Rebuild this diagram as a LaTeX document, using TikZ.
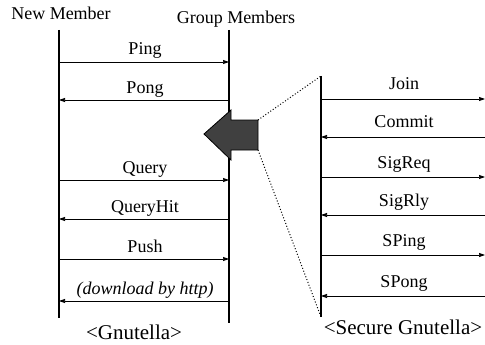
\documentclass[tikz,border=0pt]{standalone}
\usepackage{fontspec}
\setmainfont{Liberation Serif}
\usetikzlibrary{arrows.meta}
\begin{document}
\begin{tikzpicture}[x=1pt,y=-1pt,
  lifeline/.style={line width=1.2pt},
  msg/.style={line width=0.7pt,-{Triangle[length=6pt,width=4pt]}},
  lbl/.style={font=\fontsize{18}{18}\selectfont,anchor=base,inner sep=0pt},
  caption/.style={font=\fontsize{21}{21}\selectfont,anchor=base,inner sep=0pt},
  zoomline/.style={line width=1pt,dotted}]
\useasboundingbox (0,0) rectangle (485,345);

% actors
\node[lbl] (nm) at (61,20) {New Member};
\node[lbl] (gm) at (236,24) {Group Members};

% lifelines of the Gnutella exchange
\coordinate (Ltop) at (59,30);  \coordinate (Lbot) at (59,318);
\coordinate (Rtop) at (229,30); \coordinate (Rbot) at (229,323);
\draw[lifeline] (Ltop) -- (Lbot);
\draw[lifeline] (Rtop) -- (Rbot);

% Gnutella messages: name, y, direction
\foreach \t/\y/\d [count=\i] in {Ping/62/r, Pong/100/l, Query/180/r, QueryHit/219/l, Push/259/r}{
  \coordinate (gl\i) at (59,\y);
  \coordinate (gr\i) at (229,\y);
  \if r\d \draw[msg] (gl\i) -- (gr\i);\else \draw[msg] (gr\i) -- (gl\i);\fi
  \node[lbl] (gt\i) at (145,\y-7) {\t};
}
\coordinate (dl) at (59,301); \coordinate (dr) at (229,301);
\draw[msg] (dr) -- (dl);
\node[lbl] (dt) at (145,294) {\itshape (download by http)};

\node[caption] (gcap) at (134,339) {<Gnutella>};

% zoom arrow
\draw[line width=0.8pt, fill=black!75]
  (204,134) coordinate (tip) -- (231,110) -- (231,120) -- (258,120) coordinate (bt)
  -- (258,150) coordinate (bb) -- (231,150) -- (231,160) -- cycle;

% Secure Gnutella lifeline
\coordinate (Stop) at (321,76); \coordinate (Sbot) at (321,317);
\draw[lifeline] (Stop) -- (Sbot);
\draw[zoomline] (bt) -- (Stop);
\draw[zoomline] (bb) -- (Sbot);

\foreach \t/\y/\d [count=\i] in {Join/99/r, Commit/137/l, SigReq/177/r, SigRly/215/l, SPing/255/r, SPong/296/l}{
  \coordinate (sl\i) at (321,\y);
  \coordinate (sr\i) at (485,\y);
  \if r\d \draw[msg] (sl\i) -- (sr\i);\else \draw[msg] (sr\i) -- (sl\i);\fi
  \node[lbl] (st\i) at (404,\y-9) {\t};
}

\node[caption] (scap) at (403,334) {<Secure Gnutella>};
\end{tikzpicture}
\end{document}
